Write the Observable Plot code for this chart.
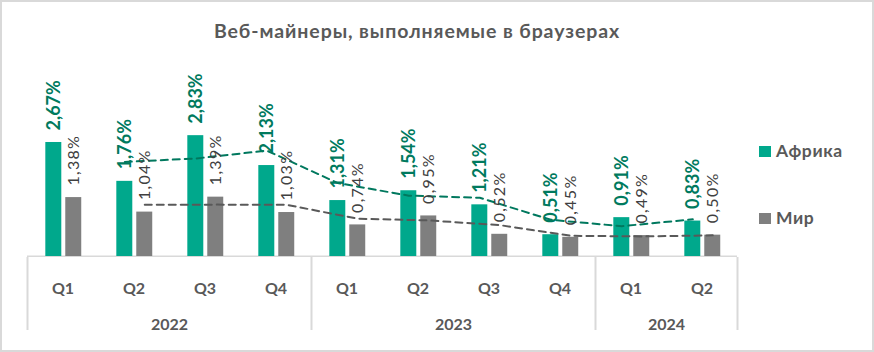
<!DOCTYPE html>
<html><head><meta charset="utf-8">
<script src="https://cdn.jsdelivr.net/npm/d3@7"></script>
<script src="https://cdn.jsdelivr.net/npm/@observablehq/plot@0.6"></script>
<style>
body{margin:0;background:#fff;}
#wrap{position:relative;width:874px;height:352px;overflow:hidden;background:#fff;font-family:Lato,"Open Sans",sans-serif;}
#border{position:absolute;left:0;top:0;width:874px;height:352px;box-sizing:border-box;border:2px solid #d9d9d9;pointer-events:none;z-index:5;}
#title{position:absolute;left:0;top:21px;width:834px;text-align:center;font-weight:bold;font-size:19.5px;line-height:19.5px;letter-spacing:0.9px;color:#595959;z-index:3;}
#chart{position:absolute;left:0;top:60px;}
#axis{position:absolute;left:0;top:257px;}
.leg{position:absolute;z-index:4;font-weight:bold;font-size:17.5px;line-height:17.5px;letter-spacing:0.6px;color:#595959;white-space:nowrap;}
.sw{position:absolute;width:12px;height:11px;z-index:4;}
g[fill="#404040"] text{letter-spacing:1.3px;}
</style>
</head><body>
<div id="wrap">
  <div id="title">Веб-майнеры, выполняемые в браузерах</div>
  <div id="chart"></div>
  <div id="axis"></div>
  <div id="legend"></div>
  <div id="border"></div>
</div>
<script>
// ---- data ----
const quarters = ["Q1","Q2","Q3","Q4","Q1","Q2","Q3","Q4","Q1","Q2"];
const years = ["2022","2023","2024"];
const quartersPerYear = [4, 4, 2];
const seriesNames = ["Африка", "Мир"];
const africa = [2.67, 1.76, 2.83, 2.13, 1.31, 1.54, 1.21, 0.51, 0.91, 0.83];
const world  = [1.38, 1.04, 1.39, 1.03, 0.74, 0.95, 0.52, 0.45, 0.49, 0.50];

// ---- styling / layout ----
const barColor   = {"Африка": "#00a88c", "Мир": "#7f7f7f"};
const labelColor = {"Африка": "#007a5e", "Мир": "#404040"};
const lineColor  = {"Африка": "#00785e", "Мир": "#595959"};
const barOffset  = {"Африка": 0.258, "Мир": 0.539};
const barWidth = 0.225;
const W = 874, ML = 27, MR = 137;

const rows = [];
seriesNames.forEach((s, k) => {
  const vals = k === 0 ? africa : world;
  vals.forEach((v, i) => rows.push({i, q: quarters[i], series: s, value: v}));
});
const cx = d => d.i + barOffset[d.series] + barWidth / 2;
const fmt = v => v.toFixed(2).replace(".", ",") + "%";

const marks = [
  Plot.ruleY([0], {stroke: "#d9d9d9", strokeWidth: 2}),
  Plot.rectY(rows, {
    x1: d => d.i + barOffset[d.series],
    x2: d => d.i + barOffset[d.series] + barWidth,
    y1: 0, y2: "value",
    fill: d => barColor[d.series]
  })
];
seriesNames.forEach(s => {
  const sub = rows.filter(d => d.series === s);
  marks.push(Plot.lineY(sub, Plot.windowY({k: 2, anchor: "end", strict: true},
    {x: cx, y: "value", stroke: lineColor[s], strokeWidth: 2, strokeDasharray: "7,5"})));
});
seriesNames.forEach(s => {
  const sub = rows.filter(d => d.series === s);
  const bold = s === "Африка";
  marks.push(Plot.text(sub, {
    x: cx, y: "value", text: d => fmt(d.value), rotate: -90,
    textAnchor: "start", dy: -12,
    fill: labelColor[s], fontWeight: bold ? "bold" : "normal",
    fontSize: bold ? 18 : 16
  }));
});

const chart = Plot.plot({
  width: W, height: 197,
  marginLeft: ML, marginRight: MR, marginTop: 196 - 3 * 42.7, marginBottom: 1,
  x: {domain: [0, quarters.length], axis: null},
  y: {domain: [0, 3], axis: null},
  style: {fontFamily: "Lato", background: "transparent"},
  marks
});
document.getElementById("chart").appendChild(chart);

// ---- multi-level category axis ----
let acc = 0;
const yearRows = years.map((y, k) => { const start = acc; acc += quartersPerYear[k]; return {year: y, start, end: acc}; });
const bounds = [0, ...yearRows.map(d => d.end)];
const qRows = quarters.map((q, i) => ({i, q}));

const axis = Plot.plot({
  width: W, height: 95,
  marginLeft: ML, marginRight: MR, marginTop: 0, marginBottom: 22,
  x: {domain: [0, quarters.length], axis: null},
  style: {fontFamily: "Lato", background: "transparent"},
  marks: [
    Plot.ruleX(bounds, {stroke: "#d9d9d9", strokeWidth: 2}),
    Plot.text(qRows, {x: d => d.i + 0.5, text: "q", frameAnchor: "top", dy: 25, fill: "#595959", fontWeight: "bold", fontSize: 16}),
    Plot.text(yearRows, {x: d => (d.start + d.end) / 2, text: "year", frameAnchor: "top", dy: 61, fill: "#595959", fontWeight: "bold", fontSize: 16})
  ]
});
document.getElementById("axis").appendChild(axis);

// ---- legend ----
const leg = document.getElementById("legend");
const legTop = [146, 213];
seriesNames.forEach((s, k) => {
  const sw = document.createElement("div");
  sw.className = "sw"; sw.style.left = "759px"; sw.style.top = legTop[k] + "px"; sw.style.background = barColor[s];
  leg.appendChild(sw);
  const t = document.createElement("div");
  t.className = "leg"; t.style.left = "776px"; t.style.top = (legTop[k] - 4) + "px"; t.textContent = s;
  leg.appendChild(t);
});
</script>
</body></html>
